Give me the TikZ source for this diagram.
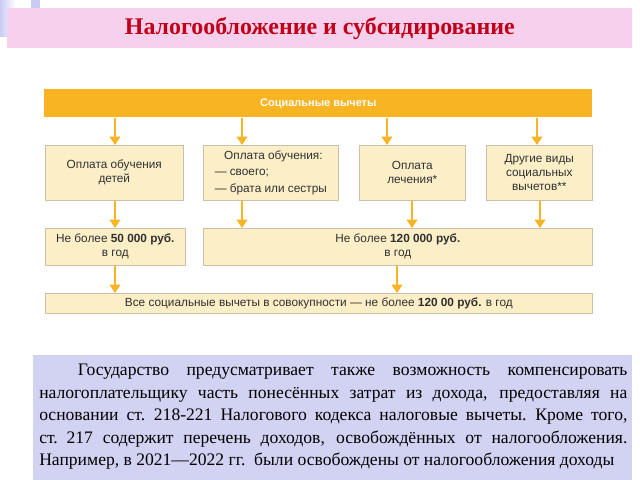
\documentclass[tikz,border=0pt]{standalone}
\usepackage{fontspec}
\setmainfont{Liberation Serif}
\newfontfamily\diagfont{Liberation Sans}
\usepackage{ragged2e}
\usetikzlibrary{positioning,arrows.meta}

\definecolor{titlepink}{HTML}{F6D0EC}
\definecolor{titlered}{HTML}{C00018}
\definecolor{barorange}{HTML}{F8B422}
\definecolor{boxcream}{HTML}{FCEFC8}
\definecolor{boxline}{HTML}{C8C0A8}
\definecolor{noteblue}{HTML}{D2D2F2}
\definecolor{cornerblue}{HTML}{C8CCF4}
\definecolor{diagtext}{HTML}{303030}

\tikzset{
  itembox/.style={draw=boxline,fill=boxcream,text=diagtext,font=\diagfont\fontsize{8.4}{10}\selectfont,align=center,inner sep=1pt},
  flow/.style={draw=barorange,line width=1.8pt,-{Triangle[length=6pt,width=7.5pt]}}
}

\begin{document}
\begin{tikzpicture}[x=0.025cm,y=-0.025cm]
\useasboundingbox (0,0) rectangle (640,480);
% corner decoration
\shade[left color=cornerblue,right color=white] (0,0) rectangle (16,36);
\fill[cornerblue] (31,0) rectangle (40,8);

% title
\node[fill=titlepink,minimum width=15.625cm,minimum height=1cm,anchor=north west,inner sep=0pt] (title) at (7,8) {};
\node[font=\bfseries\fontsize{17}{20}\selectfont,text=titlered] (titletext) at (title.center) {Налогообложение и субсидирование};

% top bar
\node[fill=barorange,minimum width=13.7cm,minimum height=0.7cm,anchor=north west,inner sep=0pt,
      font=\diagfont\bfseries\fontsize{7.8}{9}\selectfont,text=white] (bar) at (44,89) {Социальные вычеты};

% kinds
\node[itembox,minimum width=3.45cm,minimum height=1.375cm,anchor=north west] (kids) at (45,145) {Оплата обучения\\детей};
\node[itembox,minimum width=3.375cm,minimum height=1.375cm,anchor=north west,align=left] (own) at (203,145) {\hspace*{0.8em}Оплата обучения:\\[2pt]— своего;\\[2pt]— брата или сестры};
\node[itembox,minimum width=2.65cm,minimum height=1.375cm,anchor=north west] (cure) at (359,145) {Оплата\\лечения*};
\node[itembox,minimum width=2.65cm,minimum height=1.375cm,anchor=north west] (other) at (486,145) {Другие виды\\социальных\\вычетов**};

% limits
\node[itembox,minimum width=3.5cm,minimum height=0.925cm,anchor=north west] (lim50) at (45,228) {Не более \textbf{50 000 руб.}\\в год};
\node[itembox,minimum width=9.725cm,minimum height=0.925cm,anchor=north west] (lim120) at (203,228) {Не более \textbf{120 000 руб.}\\в год};

% total
\node[itembox,minimum width=13.675cm,minimum height=0.5cm,anchor=north west] (total) at (45,293) {Все социальные вычеты в совокупности — не более \textbf{120 00 руб.} в год};

% arrows
\coordinate (k0) at (115,0);
\coordinate (o0) at (242,0);
\coordinate (c0) at (387,0);
\coordinate (d0) at (537,0);
\coordinate (c1) at (412,0);
\coordinate (d1) at (540,0);
\coordinate (t0) at (397,0);
\draw[flow] (bar.south -| k0) -- (kids.north -| k0);
\draw[flow] (bar.south -| o0) -- (own.north -| o0);
\draw[flow] (bar.south -| c0) -- (cure.north -| c0);
\draw[flow] (bar.south -| d0) -- (other.north -| d0);
\draw[flow] (kids.south -| k0) -- (lim50.north -| k0);
\draw[flow] (own.south -| o0) -- (lim120.north -| o0);
\draw[flow] (cure.south -| c1) -- (lim120.north -| c1);
\draw[flow] (other.south -| d1) -- (lim120.north -| d1);
\draw[flow] (lim50.south -| k0) -- (total.north -| k0);
\draw[flow] (lim120.south -| t0) -- (total.north -| t0);

% note
\fill[noteblue] (33,355) rectangle (632,482);
\begin{scope}
\clip (33,355) rectangle (632,480);
\node[anchor=north west,text width=14.7cm,inner sep=0pt,font=\fontsize{12.5}{16}\selectfont] (note) at (39,364)
{\justifying\hspace*{2.2em}Государство предусматривает также возможность компенсировать налогоплательщику часть понесённых затрат из дохода, предоставляя на основании ст. 218-221 Налогового кодекса налоговые вычеты. Кроме того, ст. 217 содержит перечень доходов, освобождённых от налогообложения. Например, в 2021—2022 гг. были освобождены от налогообложения доходы\par};
\end{scope}
\end{tikzpicture}
\end{document}
